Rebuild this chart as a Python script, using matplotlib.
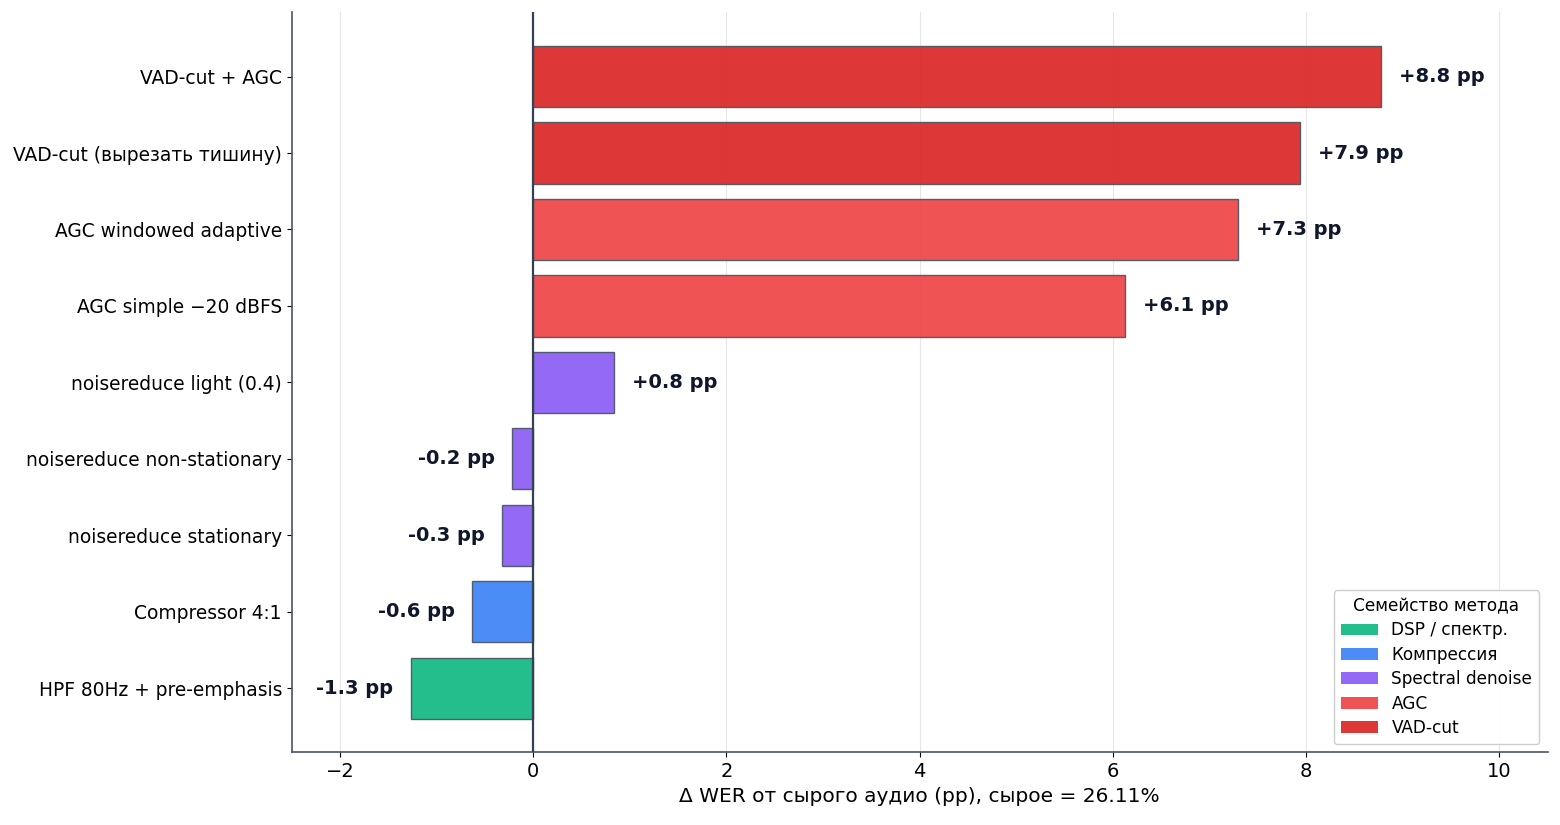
import matplotlib
matplotlib.use("Agg")
import matplotlib.pyplot as plt
from matplotlib.patches import Patch

methods = [
    "HPF 80Hz + pre-emphasis",
    "Compressor 4:1",
    "noisereduce stationary",
    "noisereduce non-stationary",
    "noisereduce light (0.4)",
    "AGC simple \u221220 dBFS",
    "AGC windowed adaptive",
    "VAD-cut (вырезать тишину)",
    "VAD-cut + AGC",
]
delta = [-1.27, -0.63, -0.32, -0.22, 0.84, 6.13, 7.30, 7.94, 8.78]
families = ["DSP / спектр.", "Компрессия", "Spectral denoise", "Spectral denoise",
            "Spectral denoise", "AGC", "AGC", "VAD-cut", "VAD-cut"]
family_order = ["DSP / спектр.", "Компрессия", "Spectral denoise", "AGC", "VAD-cut"]
family_colors = ["#10b981", "#3b82f6", "#8b5cf6", "#ef4444", "#dc2626"]
raw_wer = 26.11

cmap = dict(zip(family_order, family_colors))
plt.rcParams['font.family'] = ['DejaVu Sans']

fig, ax = plt.subplots(figsize=(15.6, 8.25), dpi=100)
y = list(range(len(methods)))
ax.barh(y, delta, height=0.8, color=[cmap[f] for f in families], alpha=0.92,
        edgecolor="#4b5563", linewidth=1.0, zorder=3)
ax.axvline(0, color="#334155", linewidth=1.6, zorder=4)

off = 0.18
for yi, v in zip(y, delta):
    if v >= 0:
        ax.text(v + off, yi, f"+{v:.1f} pp", va="center", ha="left",
                fontsize=14, fontweight="bold", color="#0f172a")
    else:
        ax.text(v - off, yi, f"{v:.1f} pp", va="center", ha="right",
                fontsize=14, fontweight="bold", color="#0f172a")

ax.set_yticks(y)
ax.set_yticklabels(methods, fontsize=13.4)
ax.tick_params(axis="x", labelsize=14)
ax.set_xlim(-2.5, 10.5)
ax.set_xlabel(f"\u0394 WER от сырого аудио (pp), сырое = {raw_wer:.2f}%", fontsize=14.5)
ax.grid(axis="x", color="#e5e7eb", linewidth=0.8, zorder=0)
ax.set_axisbelow(True)
for s in ["top", "right"]:
    ax.spines[s].set_visible(False)
for s in ["left", "bottom"]:
    ax.spines[s].set_color("#475569")
    ax.spines[s].set_linewidth(1.2)

handles = [Patch(facecolor=c, label=f, alpha=0.92) for f, c in zip(family_order, family_colors)]
leg = ax.legend(handles=handles, title="Семейство метода", loc="lower right",
                fontsize=12.2, title_fontsize=12.2, framealpha=0.95,
                handlelength=2.2, labelspacing=0.38)

fig.subplots_adjust(left=0.187, right=0.992, top=0.985, bottom=0.088)
fig.savefig("out.png", dpi=100)
